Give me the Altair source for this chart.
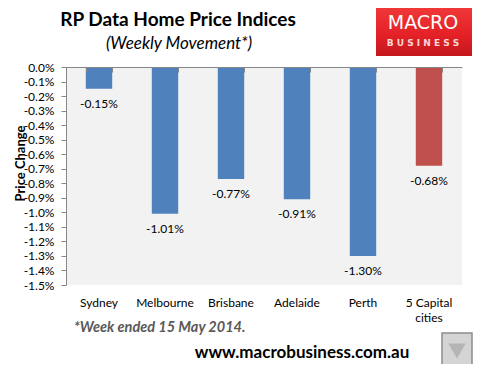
import altair as alt
import pandas as pd

cities = ["Sydney", "Melbourne", "Brisbane", "Adelaide", "Perth", "5 Capital cities"]
changes = [-0.15, -1.01, -0.77, -0.91, -1.30, -0.68]
groups = ["city", "city", "city", "city", "city", "total"]
bar_labels = ["-0.15%", "-1.01%", "-0.77%", "-0.91%", "-1.30%", "-0.68%"]
y_ticks = [0.0, -0.1, -0.2, -0.3, -0.4, -0.5, -0.6, -0.7, -0.8, -0.9,
           -1.0, -1.1, -1.2, -1.3, -1.4, -1.5]

df = pd.DataFrame({"city": cities, "change": changes, "group": groups, "label": bar_labels})

W, H = 396, 218
FONT = "Lato"
GREY = "#868686"

xscale = alt.Scale(paddingInner=0.6, paddingOuter=0.3)
yscale = alt.Scale(domain=[-1.5, 0], nice=False, zero=True)

x_bottom = alt.X(
    "city:N", sort=cities, scale=xscale,
    axis=alt.Axis(
        orient="bottom", title=None, domain=False, ticks=False, labelAngle=0,
        labelPadding=12, labelFont=FONT, labelFontSize=12, labelColor="black",
        labelLineHeight=15, labelBaseline="top", labelOverlap=False,
        labelExpr="datum.label == '5 Capital cities' ? ['5 Capital', 'cities'] : datum.label",
    ),
)
# zero line (domain only) along the top of the plot
x_zero = alt.X(
    "city:N", sort=cities, scale=xscale,
    axis=alt.Axis(
        orient="top", title=None, labels=False, domain=True, ticks=False,
        domainColor=GREY, zindex=1,
    ),
)
# category-boundary ticks hanging down from the zero line
x_ticks = alt.X(
    "city:N", sort=cities, scale=xscale,
    axis=alt.Axis(
        orient="top", title=None, labels=False, domain=False, ticks=True,
        tickColor=GREY, tickSize=5, tickBand="extent", offset=-5, zindex=1,
    ),
)
y_enc = alt.Y(
    "change:Q", scale=yscale,
    axis=alt.Axis(
        values=y_ticks, grid=False, domain=True, ticks=True, zindex=1,
        domainColor=GREY, tickColor=GREY, tickSize=5, labelOverlap=False,
        labelPadding=7, labelFont=FONT, labelFontSize=12, labelColor="black",
        labelExpr="(datum.value < -0.00001 ? '-' : '') + format(abs(datum.value), '.1f') + '%'",
        title="Price Change", titleFont=FONT, titleFontSize=13, titleFontWeight="bold",
        titleColor="black", titleAngle=-90, titleX=-46, titleY=96,
        titleAlign="center", titleBaseline="middle",
    ),
)

bars = alt.Chart(df).mark_bar().encode(
    x=x_bottom,
    y=y_enc,
    color=alt.Color("group:N", scale=alt.Scale(domain=["city", "total"],
                                               range=["#4f81bd", "#c0504d"]), legend=None),
)

labels = alt.Chart(df).mark_text(
    baseline="middle", dy=15, font=FONT, fontSize=12, color="black"
).encode(x=x_zero, y=y_enc, text="label:N")

tick_layer = alt.Chart(df).mark_bar(opacity=0).encode(x=x_ticks, y=y_enc)

one = pd.DataFrame({"a": [0]})

def txt(s, x, y, font=FONT, **kw):
    return alt.Chart(one).mark_text(font=font, baseline="middle", **kw).encode(
        x=alt.value(x), y=alt.value(y), text=alt.value(s))

title = txt("RP Data Home Price Indices", 112, -47, fontSize=19, fontWeight="bold",
            color="black", align="center")
subtitle = txt("(Weekly Movement*)", 113, -23, fontSize=17, fontStyle="italic",
               color="black", align="center")

logo = alt.Chart(one).mark_rect(
    fill=alt.Gradient(gradient="linear", x1=0, x2=0, y1=0, y2=1,
                      stops=[alt.GradientStop(color="#f23b3b", offset=0),
                             alt.GradientStop(color="#e32126", offset=0.6),
                             alt.GradientStop(color="#c3171c", offset=1)])
).encode(x=alt.value(310), x2=alt.value(406), y=alt.value(-63), y2=alt.value(-11))
macro = txt("MACRO", 357, -44, fontSize=19, fontWeight="normal", color="white",
            align="center", font="DejaVu Sans")
business = txt("B U S I N E S S", 357, -24, fontSize=9, fontWeight="bold",
               color="#fbd7d7", align="center", font="DejaVu Sans")

foot = txt("*Week ended 15 May 2014.", 8, 261, fontSize=14.5, fontWeight="bold",
           fontStyle="italic", color="#595959", align="left")
url = txt("www.macrobusiness.com.au", 236, 286, fontSize=17, fontWeight="bold",
          color="black", align="center")

wolf = alt.Chart(one).mark_rect(fill="#d4d4d4", stroke="#8c8c8c", strokeWidth=1.5).encode(
    x=alt.value(376), x2=alt.value(406), y=alt.value(266), y2=alt.value(302))
wolf_face = alt.Chart(one).mark_point(shape="triangle-down", size=300, filled=True,
                                      color="#a8a8a8").encode(
    x=alt.value(391), y=alt.value(284))

chart = alt.layer(
    bars, labels, tick_layer, title, subtitle, logo, macro, business, foot, url,
    wolf, wolf_face
).resolve_axis(x="independent").properties(
    width=W, height=H,
    padding={"left": 58, "top": 59, "right": 11, "bottom": 79},
    autosize=alt.AutoSizeParams(type="none"),
    background="white",
).configure_view(fill="#f2f2f2", stroke=None)

chart.save("out.html", embed_options={"renderer": "svg", "actions": False})
